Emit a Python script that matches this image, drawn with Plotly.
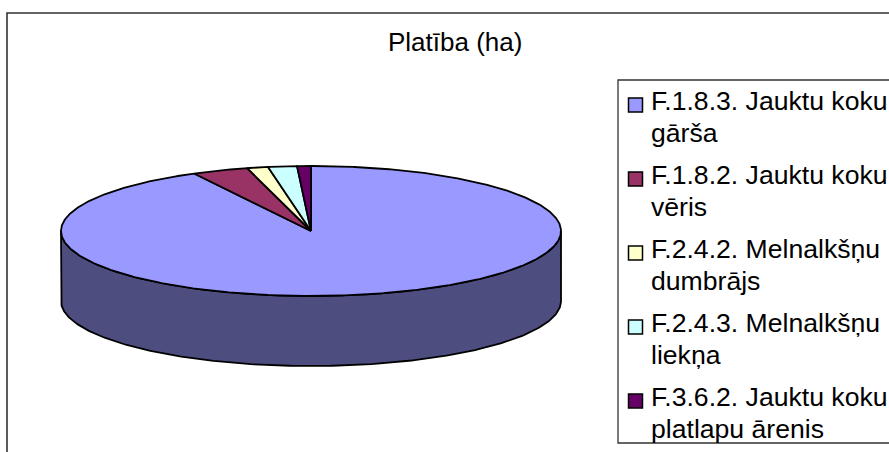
import numpy as np
import plotly.graph_objects as go

# Data (estimated shares of the area)
categories = [
    "F.1.8.3. Jauktu koku<br>gārša",
    "F.1.8.2. Jauktu koku<br>vēris",
    "F.2.4.2. Melnalkšņu<br>dumbrājs",
    "F.2.4.3. Melnalkšņu<br>liekņa",
    "F.3.6.2. Jauktu koku<br>platlapu ārenis",
]
values = [92.25, 3.64, 1.36, 1.86, 0.89]
colors = ["#9999FF", "#993366", "#FFFFCC", "#CCFFFF", "#660066"]
side_color = "#4D4D80"
title = "Platība (ha)"

W, H = 889, 452
CX, CY, RX, RY, DEPTH = 311, 231, 250, 65, 70
OUT = dict(color="black", width=1.8)
FONT = "Liberation Sans, Arial, sans-serif"
FS = 26
FS_LEGEND = 26.6


def rim(a0, a1, n=None):
    n = n or max(3, int(abs(a1 - a0) * 120))
    t = np.linspace(a0, a1, n)
    return CX + RX * np.sin(t), CY - RY * np.cos(t)


fig = go.Figure()

# Side wall: the front half of the disc, extruded downward
xf, yf = rim(np.pi / 2, 3 * np.pi / 2, 240)
fig.add_trace(go.Scatter(
    x=np.r_[xf, xf[::-1], xf[0]], y=np.r_[yf, yf[::-1] + DEPTH, yf[0]],
    mode="lines", fill="toself", fillcolor=side_color, line=OUT,
    hoverinfo="skip", showlegend=False,
))

# Top face
fr = np.cumsum([0] + values) / sum(values) * 2 * np.pi
for i, c in enumerate(colors):
    x, y = rim(fr[i], fr[i + 1])
    fig.add_trace(go.Scatter(
        x=np.r_[CX, x, CX], y=np.r_[CY, y, CY],
        mode="lines", fill="toself", fillcolor=c, line=OUT,
        hoverinfo="skip", showlegend=False,
    ))

# Legend swatches
LEG_Y0, LEG_STEP = 105, 74
fig.add_trace(go.Scatter(
    x=[635.5] * len(colors),
    y=[LEG_Y0 + i * LEG_STEP for i in range(len(colors))],
    mode="markers",
    marker=dict(symbol="square", size=14, color=colors, line=dict(color="black", width=1.5)),
    hoverinfo="skip", showlegend=False,
))

annotations = [dict(
    x=455, y=42, xref="x", yref="y", text=title, showarrow=False,
    font=dict(family=FONT, size=FS, color="black"), xanchor="center", yanchor="middle",
)]
for i, label in enumerate(categories):
    for j, line in enumerate(label.split("<br>")):
        annotations.append(dict(
            x=649, y=LEG_Y0 - 4 + i * LEG_STEP + j * 32, xref="x", yref="y",
            text=line, showarrow=False,
            font=dict(family=FONT, size=FS_LEGEND, color="black"),
            xanchor="left", yanchor="middle",
        ))

shapes = [
    dict(type="rect", xref="x", yref="y", x0=7, y0=13, x1=W + 20, y1=H + 20,
         line=dict(color="#333333", width=1.6), layer="below"),
    dict(type="rect", xref="x", yref="y", x0=618, y0=80, x1=W + 20, y1=443,
         line=dict(color="#333333", width=1.3), layer="below"),
]

fig.update_layout(
    width=W, height=H, margin=dict(l=0, r=0, t=0, b=0),
    paper_bgcolor="white", plot_bgcolor="white", showlegend=False,
    xaxis=dict(range=[0, W], visible=False, fixedrange=True),
    yaxis=dict(range=[H, 0], visible=False, fixedrange=True),
    annotations=annotations, shapes=shapes,
)
fig.write_html(
    "out.html", config=dict(displayModeBar=False),
    post_script="document.body.style.margin='0';document.body.style.overflow='hidden';",
)
